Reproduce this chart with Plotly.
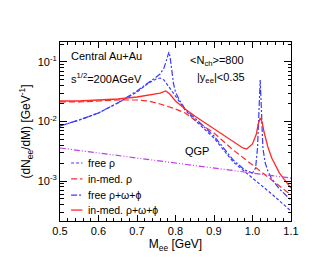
import plotly.graph_objects as go

# ---- data ----
m_free_rho = [0.50, 0.55, 0.60, 0.65, 0.70, 0.73, 0.75, 0.76, 0.77, 0.78, 0.80, 0.825, 0.85, 0.90, 0.95, 1.00, 1.05, 1.10]
free_rho = [0.0084, 0.0106, 0.0139, 0.0205, 0.0313, 0.0444, 0.0518, 0.0538, 0.0498, 0.0411, 0.0268, 0.0156, 0.0106, 0.00528, 0.00209, 0.00112, 0.000605, 0.000313]

m_med_rho = [0.50, 0.55, 0.60, 0.65, 0.70, 0.73, 0.76, 0.80, 0.825, 0.85, 0.90, 0.95, 1.00, 1.05, 1.10]
med_rho = [0.0213, 0.0213, 0.0221, 0.0230, 0.0230, 0.0221, 0.0197, 0.0162, 0.0139, 0.0106, 0.0064, 0.00332, 0.00186, 0.00104, 0.000582]

m_free_all = [0.50, 0.55, 0.60, 0.65, 0.70, 0.73, 0.75, 0.76, 0.77, 0.775, 0.780, 0.783, 0.786, 0.79, 0.795, 0.80, 0.81, 0.825, 0.85, 0.90, 0.95, 0.98, 1.00, 1.008, 1.013, 1.017, 1.020, 1.023, 1.027, 1.033, 1.04, 1.05, 1.07, 1.10]
free_all = [0.0084, 0.0106, 0.0139, 0.0205, 0.0326, 0.0461, 0.0560, 0.0628, 0.0793, 0.0990, 0.1380, 0.1480, 0.1200, 0.0734, 0.0427, 0.0313, 0.0230, 0.0162, 0.01145, 0.0057, 0.00225, 0.00153, 0.00136, 0.00165, 0.00359, 0.01686, 0.0498, 0.01686, 0.00359, 0.00201, 0.00147, 0.00108, 0.000733, 0.000479]

m_med_all = [0.50, 0.55, 0.60, 0.65, 0.70, 0.73, 0.76, 0.775, 0.785, 0.80, 0.825, 0.85, 0.90, 0.95, 0.975, 0.985, 1.00, 1.01, 1.015, 1.02, 1.025, 1.03, 1.04, 1.05, 1.07, 1.10]
med_all = [0.0221, 0.0221, 0.0230, 0.0239, 0.0258, 0.0279, 0.0301, 0.0326, 0.0290, 0.0221, 0.0162, 0.01237, 0.00748, 0.00452, 0.00359, 0.00345, 0.00419, 0.00617, 0.00908, 0.01145, 0.0098, 0.00666, 0.00373, 0.00244, 0.00136, 0.000763]

m_qgp = [0.5, 0.6, 0.7, 0.8, 0.9, 1.0, 1.1]
qgp = [0.00359, 0.00296, 0.00244, 0.00201, 0.00165, 0.00136, 0.00112]

x_ticks = [0.5, 0.6, 0.7, 0.8, 0.9, 1.0, 1.1]
y_ticks = [0.001, 0.01, 0.1]
y_ticktext = ["10<sup>-3</sup>", "10<sup>-2</sup>", "10<sup>-1</sup>"]

legend_labels = ["free ρ", "in-med. ρ", "free ρ+ω+ϕ", "in-med. ρ+ω+ϕ"]

BLUE = "#3a3aff"
RED = "#ff2a2a"
PURPLE = "#c23de6"
FONT = "Liberation Sans, Arial, sans-serif"

styles = [
    dict(color=BLUE, width=1.2, dash="3px,2px"),
    dict(color=RED, width=1.2, dash="6px,3px"),
    dict(color=BLUE, width=1.2, dash="6px,2px,2px,2px"),
    dict(color=RED, width=1.3, dash="solid"),
]
series = [(m_free_rho, free_rho), (m_med_rho, med_rho), (m_free_all, free_all), (m_med_all, med_all)]

fig = go.Figure()
for (mx, vy), name, st in zip(series, legend_labels, styles):
    fig.add_trace(go.Scatter(x=mx, y=vy, mode="lines", name=name, line=st, showlegend=False))
fig.add_trace(go.Scatter(x=m_qgp, y=qgp, mode="lines", name="QGP", showlegend=False,
                         line=dict(color=PURPLE, width=1.2, dash="6px,2px,1px,2px,1px,2px")))

minor_y = [k * 10.0 ** e for e in range(-4, 0) for k in range(2, 10)]

fig.update_layout(
    width=333, height=258,
    margin=dict(l=52, r=50, t=34, b=45),
    paper_bgcolor="white", plot_bgcolor="white",
    font=dict(family=FONT, size=10, color="black"),
    showlegend=False,
    xaxis=dict(range=[0.5, 1.1], tickvals=x_ticks, tickformat=".1f",
               ticks="inside", ticklen=6, tickwidth=1, tickcolor="black",
               showline=True, linecolor="black", linewidth=1, mirror="allticks",
               showgrid=False, zeroline=False,
               minor=dict(ticks="inside", ticklen=3, dtick=0.02, tickcolor="black", showgrid=False),
               tickfont=dict(size=11),
               title=dict(text="M<sub>ee</sub> [GeV]", font=dict(size=12), standoff=2)),
    yaxis=dict(type="log", range=[-3.672, -0.664], tickvals=y_ticks, ticktext=y_ticktext,
               ticks="inside", ticklen=7, tickwidth=1, tickcolor="black",
               showline=True, linecolor="black", linewidth=1, mirror="allticks",
               showgrid=False, zeroline=False,
               minor=dict(ticks="inside", ticklen=3.5, tickvals=minor_y, tickcolor="black", showgrid=False),
               tickfont=dict(size=11),
               title=dict(text="(dN<sub>ee</sub>/dM) [GeV<sup>-1</sup>]", font=dict(size=12), standoff=4)),
)

ann = dict(xref="paper", yref="paper", showarrow=False, xanchor="left", yanchor="middle",
           font=dict(family=FONT, size=11, color="black"))
fig.add_annotation(x=0.039, y=0.922, text="Central Au+Au", **ann)
fig.add_annotation(x=0.039, y=0.80, text="s<sup>1/2</sup>=200AGeV", **ann)
fig.add_annotation(x=0.555, y=0.895, text="&lt;N<sub>ch</sub>&gt;=800", **ann)
fig.add_annotation(x=0.585, y=0.80, text="|y<sub>ee</sub>|&lt;0.35", **ann)
fig.add_annotation(x=0.532, y=0.391, text="QGP", **ann)

# legend drawn inside the frame (short sample lines + labels)
leg_y = [0.324, 0.235, 0.145, 0.061]
for ly, name, st in zip(leg_y, legend_labels, styles):
    fig.add_shape(type="line", xref="paper", yref="paper", x0=0.048, x1=0.097, y0=ly, y1=ly,
                  line=dict(color=st["color"], width=st["width"], dash=st["dash"]))
    fig.add_annotation(x=0.113, y=ly, text=name, xref="paper", yref="paper", showarrow=False,
                       xanchor="left", yanchor="middle", font=dict(family=FONT, size=10.5, color="black"))

fig.write_html("out.html")
